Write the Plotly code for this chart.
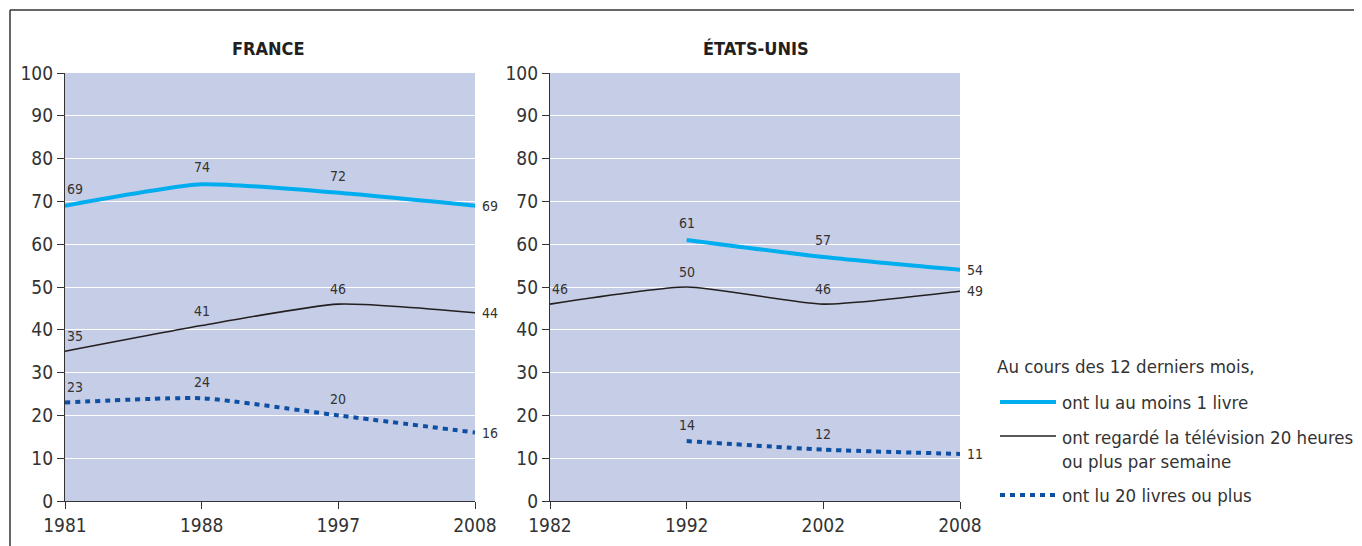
import plotly.graph_objects as go

# ---- data ----
fr_years = ["1981", "1988", "1997", "2008"]
us_years = ["1982", "1992", "2002", "2008"]

fr_livre1 = [69, 74, 72, 69]
fr_tv = [35, 41, 46, 44]
fr_livre20 = [23, 24, 20, 16]

us_livre1 = [None, 61, 57, 54]
us_tv = [46, 50, 46, 49]
us_livre20 = [None, 14, 12, 11]

y_ticks = [0, 10, 20, 30, 40, 50, 60, 70, 80, 90, 100]

legend_title = "Au cours des 12 derniers mois,"
legend_labels = [
    "ont lu au moins 1 livre",
    "ont regardé la télévision 20 heures<br>ou plus par semaine",
    "ont lu 20 livres ou plus",
]
titles = ["FRANCE", "ÉTATS-UNIS"]

# ---- style ----
FONT = "DejaVu Sans Condensed, Liberation Sans Narrow, sans-serif"
TXT = "#333333"
BG = "#c6cde7"
C_LIGHT = "#00aeef"
C_BLACK = "#231f20"
C_DOT = "#0d4fa3"
OFF = 8            # page body margin
W = 1362 - OFF
H = 546 - OFF

def px_x(v):
    return (v - OFF) / W

def px_y(v):
    return 1 - (v - OFF) / H

fig = go.Figure()

panels = [
    (fr_years, fr_livre1, fr_tv, fr_livre20, "x", "y"),
    (us_years, us_livre1, us_tv, us_livre20, "x2", "y2"),
]
for years, l1, tv, l20, xa, ya in panels:
    for vals, color, width, dash, lift in [
        (tv, C_BLACK, 1.6, "solid", 15),
        (l20, C_DOT, 4, "5px,5px", 16),
        (l1, C_LIGHT, 4, "solid", 17),
    ]:
        fig.add_trace(go.Scatter(
            x=years, y=vals, mode="lines",
            line=dict(color=color, width=width, dash=dash, shape="spline", smoothing=0.55),
            showlegend=False, hoverinfo="skip", xaxis=xa, yaxis=ya,
        ))
        # value labels (x given as category index)
        for i, v in enumerate(vals):
            if v is None:
                continue
            last = i == len(vals) - 1
            first = i == 0
            fig.add_annotation(
                x=i, y=v, xref=xa, yref=ya, text=str(v),
                showarrow=False, xanchor="center", yanchor="middle",
                xshift=(15 if last else (10 if first else 0)),
                yshift=(0 if last else lift),
                font=dict(family=FONT, size=14, color=TXT),
            )

dom_y = [px_y(501), px_y(73)]
axis_common = dict(
    showline=True, linecolor="#333333", linewidth=1.2,
    ticks="outside", ticklen=7, tickcolor="#333333", tickwidth=1,
    tickfont=dict(family=FONT, size=19, color=TXT), automargin=False,
)
fig.update_layout(
    width=W, height=H, autosize=False,
    margin=dict(l=0, r=0, t=0, b=0, pad=0),
    paper_bgcolor="white", plot_bgcolor=BG,
    xaxis=dict(domain=[px_x(65), px_x(475)], type="category", range=[0, 3],
               showgrid=False, anchor="y", **axis_common),
    yaxis=dict(domain=dom_y, range=[0, 100], tickvals=y_ticks, showgrid=True,
               gridcolor="white", gridwidth=1.2, zeroline=False, anchor="x", **axis_common),
    xaxis2=dict(domain=[px_x(550), px_x(960)], type="category", range=[0, 3],
                showgrid=False, anchor="y2", **axis_common),
    yaxis2=dict(domain=dom_y, range=[0, 100], tickvals=y_ticks, showgrid=True,
                gridcolor="white", gridwidth=1.2, zeroline=False, anchor="x2", **axis_common),
    font=dict(family=FONT, color=TXT),
)

for t, cx in zip(titles, [268, 756]):
    fig.add_annotation(x=px_x(cx), y=px_y(48), xref="paper", yref="paper",
                       text="<b>" + t + "</b>", showarrow=False,
                       font=dict(family=FONT, size=18, color="#231f20"),
                       xanchor="center", yanchor="middle")

# frame lines
fig.add_shape(type="line", xref="paper", yref="paper",
              x0=px_x(10), x1=1, y0=px_y(10), y1=px_y(10),
              line=dict(color="#333333", width=1.5))
fig.add_shape(type="line", xref="paper", yref="paper",
              x0=px_x(10), x1=px_x(10), y0=px_y(10), y1=0,
              line=dict(color="#333333", width=1.5))

# legend
fig.add_annotation(x=px_x(995), y=px_y(366), xref="paper", yref="paper",
                   text=legend_title, showarrow=False, xanchor="left", yanchor="middle",
                   font=dict(family=FONT, size=18.5, color=TXT))
leg_items = [
    (C_LIGHT, 4, "solid", 402, 402),
    (C_BLACK, 1.6, "solid", 436, 449.5),
    (C_DOT, 4, "5px,5px", 495, 495),
]
for (color, width, dash, ly, ty), lab in zip(leg_items, legend_labels):
    fig.add_shape(type="line", xref="paper", yref="paper",
                  x0=px_x(1000), x1=px_x(1056), y0=px_y(ly), y1=px_y(ly),
                  line=dict(color=color, width=width, dash=dash))
    fig.add_annotation(x=px_x(1060), y=px_y(ty), xref="paper", yref="paper",
                       text=lab, showarrow=False, xanchor="left", yanchor="middle",
                       align="left", font=dict(family=FONT, size=18.5, color=TXT))

fig.write_html("out.html")
